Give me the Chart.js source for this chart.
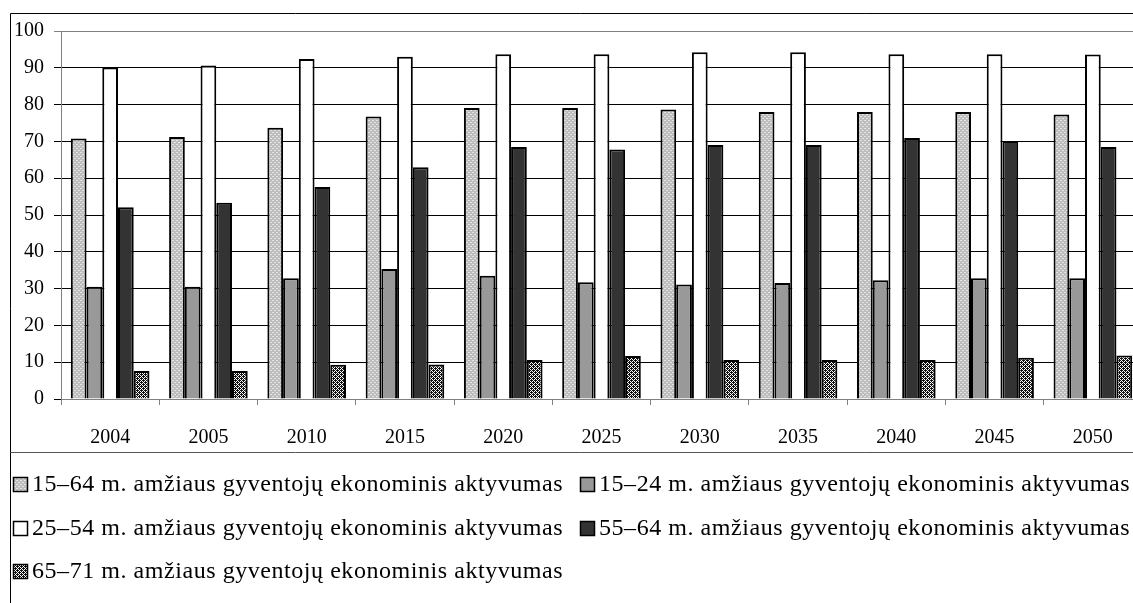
<!DOCTYPE html>
<html>
<head>
<meta charset="utf-8">
<script src="https://cdn.jsdelivr.net/npm/chart.js@4.4.1/dist/chart.umd.min.js"></script>
<style>
  html, body { margin: 0; padding: 0; background: #fff; overflow: hidden; }
  #wrap { width: 1133px; height: 603px; overflow: hidden; position: relative; }
  #chartAkt { display: block; }
</style>
</head>
<body>
<div id="wrap"><canvas id="chartAkt" width="1150" height="603"></canvas></div>
<script>
// metai
var years = ['2004', '2005', '2010', '2015', '2020', '2025', '2030', '2035', '2040', '2045', '2050'];

// aktyvumas pagal amziaus grupes, %
var akt1564 = [70.8, 71.2, 73.7, 76.8, 79.1, 79.1, 78.7, 78.0, 78.0, 78.0, 77.3];
var akt1524 = [30.5, 30.5, 32.8, 35.3, 33.5, 31.7, 31.1, 31.5, 32.3, 32.8, 32.8];
var akt2554 = [90.1, 90.6, 92.4, 93.0, 93.7, 93.7, 94.2, 94.2, 93.7, 93.7, 93.6];
var akt5564 = [52.1, 53.3, 57.6, 63.0, 68.5, 67.8, 69.0, 69.0, 70.9, 70.1, 68.5];
var akt6571 = [7.6, 7.6, 9.3, 9.4, 10.6, 11.7, 10.6, 10.6, 10.6, 11.2, 11.8];

var seriesNames = [
    '15\u201364 m. am\u017eiaus gyventoj\u0173 ekonominis aktyvumas',
    '15\u201324 m. am\u017eiaus gyventoj\u0173 ekonominis aktyvumas',
    '25\u201354 m. am\u017eiaus gyventoj\u0173 ekonominis aktyvumas',
    '55\u201364 m. am\u017eiaus gyventoj\u0173 ekonominis aktyvumas',
    '65\u201371 m. am\u017eiaus gyventoj\u0173 ekonominis aktyvumas'
];

var yTicks = [0, 10, 20, 30, 40, 50, 60, 70, 80, 90, 100];

var FONT = "'Liberation Serif', 'Times New Roman', serif";

// small tile patterns like the old excel fills
function makePattern(size, bg, fg, dots) {
    var c = document.createElement('canvas');
    c.width = size; c.height = size;
    var g = c.getContext('2d');
    g.fillStyle = bg;
    g.fillRect(0, 0, size, size);
    g.fillStyle = fg;
    dots.forEach(function (d) { g.fillRect(d[0], d[1], d[2] || 1, d[3] || 1); });
    return g.createPattern(c, 'repeat');
}

var ctx = document.getElementById('chartAkt').getContext('2d');

var dotPattern = makePattern(4, '#bdbdbd', '#e4e4e4', [[0, 0, 2, 1], [2, 2, 2, 1]]);
var checkPattern = makePattern(4, '#111111', '#ffffff', [[1, 0, 1, 1], [0, 1, 1, 1], [2, 1, 1, 1], [3, 2, 1, 1], [2, 3, 1, 1], [0, 3, 1, 1]]);

var fills = [dotPattern, '#999999', '#ffffff', '#333333', checkPattern];
var values = [akt1564, akt1524, akt2554, akt5564, akt6571];

var datasets = values.map(function (v, i) {
    return {
        label: seriesNames[i],
        data: v,
        backgroundColor: fills[i],
        borderColor: '#000000',
        borderWidth: 2,
        borderSkipped: 'start'
    };
});

// frame + legend drawn by hand
var framePlugin = {
    id: 'frameLegend',
    afterDraw: function (chart) {
        var c = chart.ctx;
        c.save();
        c.strokeStyle = '#000';
        c.lineWidth = 1;
        c.beginPath();
        c.moveTo(10.5, 603);
        c.lineTo(10.5, 13.5);
        c.lineTo(1150, 13.5);
        c.stroke();
        c.strokeStyle = '#555';
        c.beginPath();
        c.moveTo(10.5, 452.5);
        c.lineTo(1150, 452.5);
        c.stroke();

        var rows = [484, 528, 571];
        var cols = [13, 580];
        c.font = '24px ' + FONT;
        c.textBaseline = 'middle';
        if ('letterSpacing' in c) c.letterSpacing = '0.55px';
        seriesNames.forEach(function (name, i) {
            var x = cols[i % 2], y = rows[Math.floor(i / 2)];
            c.fillStyle = fills[i];
            c.fillRect(x, y - 7, 15, 15);
            c.strokeStyle = '#000';
            c.lineWidth = 1.5;
            c.strokeRect(x + 0.5, y - 6.5, 14, 14);
            c.fillStyle = '#000';
            c.fillText(name, x + 19, y + 1);
        });
        c.restore();
    }
};

var chart = new Chart(ctx, {
    type: 'bar',
    data: {
        labels: years,
        datasets: datasets
    },
    options: {
        responsive: false,
        animation: false,
        layout: { padding: { left: 0, top: 31, right: 8, bottom: 0 } },
        datasets: {
            bar: { categoryPercentage: 0.8, barPercentage: 1.0 }
        },
        plugins: {
            legend: { display: false },
            tooltip: { enabled: false },
            title: { display: false }
        },
        scales: {
            x: {
                grid: { display: true, drawOnChartArea: false, drawTicks: true, tickLength: 6, color: '#808080', offset: true },
                border: { color: '#808080' },
                ticks: {
                    font: { family: FONT, size: 20 },
                    color: '#000',
                    padding: 21,
                    maxRotation: 0,
                    autoSkip: false
                },
                afterFit: function (s) { s.height = 204; }
            },
            y: {
                min: 0,
                max: 100,
                afterBuildTicks: function (s) { s.ticks = yTicks.map(function (v) { return { value: v }; }); },
                grid: {
                    color: function (c) { return c.tick && c.tick.value === 100 ? '#808080' : '#000'; },
                    lineWidth: 1,
                    tickLength: 7
                },
                border: { color: '#808080' },
                ticks: {
                    font: { family: FONT, size: 20 },
                    color: '#000',
                    padding: 10
                },
                afterFit: function (s) { s.width = 61; }
            }
        }
    },
    plugins: [framePlugin]
});
</script>
</body>
</html>
